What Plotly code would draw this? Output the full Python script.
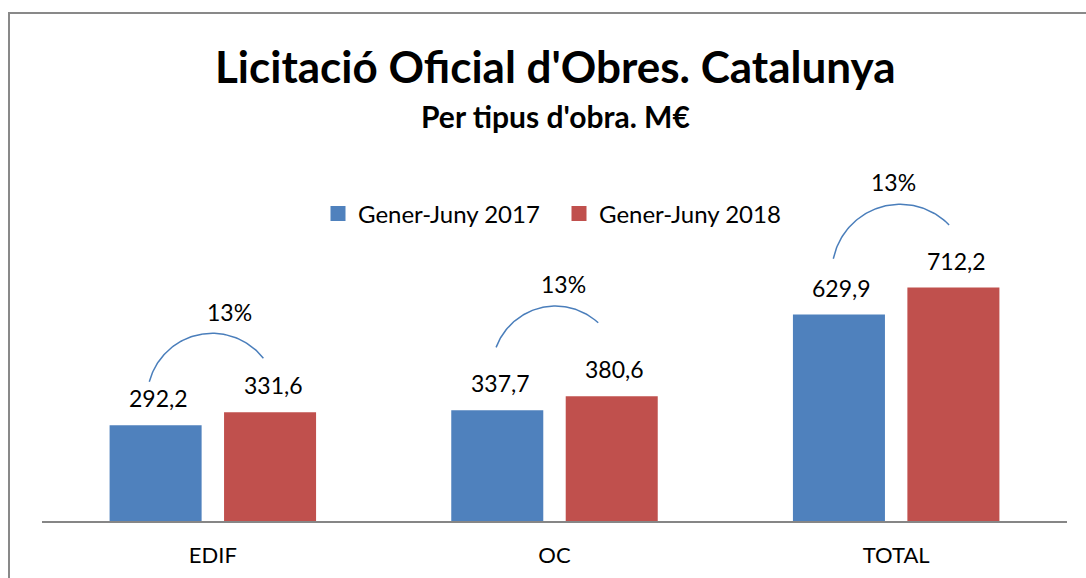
import numpy as np
import plotly.graph_objects as go

# ---- data ----
categories = ["EDIF", "OC", "TOTAL"]
series_names = ["Gener-Juny 2017", "Gener-Juny 2018"]
values_2017 = [292.2, 337.7, 629.9]
values_2018 = [331.6, 380.6, 712.2]

# ---- layout constants ----
W, H = 1086, 578
ML, MR, MT, MB = 42, 19, 160, 57
PLOT_W = W - ML - MR
PLOT_H = H - MT - MB
PX_PER_UNIT = 0.3278
Y_TOP = PLOT_H / PX_PER_UNIT
X_RANGE = [-0.5, len(categories) - 0.5]
BARGAP = 0.33
BARGROUPGAP = 0.196
BAR_OFF = (1 - BARGAP) / 4.0

BLUE = "#4F81BD"
RED = "#C0504D"
FONT = "Lato"

# decorative arc offsets (dx from group centre, dy above the 2018 value)
ARC_OFFSETS = [
    [(-0.186, 93), (-0.003, 241), (0.148, 165)],
    [(-0.171, 149), (0.006, 275), (0.128, 224)],
    [(-0.184, 88), (0.016, 254), (0.155, 191)],
]
PCT_OFFSETS = [(0.050, 307), (0.025, 342), (-0.009, 323)]


def d2p(x, y):
    px = ML + (x - X_RANGE[0]) / (X_RANGE[1] - X_RANGE[0]) * PLOT_W
    py = MT + PLOT_H - y / Y_TOP * PLOT_H
    return px, py


def p2d(px, py):
    x = X_RANGE[0] + (px - ML) / PLOT_W * (X_RANGE[1] - X_RANGE[0])
    y = (MT + PLOT_H - py) / PLOT_H * Y_TOP
    return x, y


def paper_x(px):
    return (px - ML) / PLOT_W


def paper_y(py):
    return (MT + PLOT_H - py) / PLOT_H


def arc_points(p1, p2, p3, n=80):
    (ax, ay), (bx, by), (cx, cy) = p1, p2, p3
    d = 2 * (ax * (by - cy) + bx * (cy - ay) + cx * (ay - by))
    ux = ((ax**2 + ay**2) * (by - cy) + (bx**2 + by**2) * (cy - ay) + (cx**2 + cy**2) * (ay - by)) / d
    uy = ((ax**2 + ay**2) * (cx - bx) + (bx**2 + by**2) * (ax - cx) + (cx**2 + cy**2) * (bx - ax)) / d
    r = np.hypot(ax - ux, ay - uy)
    ts = np.arctan2(ay - uy, ax - ux)
    tp = np.arctan2(by - uy, bx - ux)
    te = np.arctan2(cy - uy, cx - ux)
    two = 2 * np.pi
    sweep = (te - ts) % two
    if (tp - ts) % two < sweep:
        t = ts + np.linspace(0, sweep, n)
    else:
        t = ts - np.linspace(0, two - sweep, n)
    return ux + r * np.cos(t), uy + r * np.sin(t)


fig = go.Figure()
xs = list(range(len(categories)))
fig.add_trace(go.Bar(x=xs, y=values_2017, name=series_names[0], marker_color=BLUE,
                     marker_line_width=0, showlegend=False, legendgroup="a"))
fig.add_trace(go.Bar(x=xs, y=values_2018, name=series_names[1], marker_color=RED,
                     marker_line_width=0, showlegend=False, legendgroup="b"))
# legend entries with larger square swatches
for name, col, grp in ((series_names[0], BLUE, "a"), (series_names[1], RED, "b")):
    fig.add_trace(go.Scatter(x=[None], y=[None], mode="markers", name=name, legendgroup=grp,
                             marker=dict(symbol="square", size=15, color=col)))

annotations = []
# value labels
for i, (v1, v2) in enumerate(zip(values_2017, values_2018)):
    for xo, v in ((-BAR_OFF, v1), (BAR_OFF, v2)):
        annotations.append(dict(
            x=i + xo, y=v, xref="x", yref="y", text=f"{v:.1f}".replace(".", ","),
            showarrow=False, yanchor="middle", yshift=27, xshift=3,
            font=dict(family=FONT, size=23, color="black")))

# arcs and percentage labels
for i, (v1, v2) in enumerate(zip(values_2017, values_2018)):
    pts = [d2p(i + dx, v2 + dy) for dx, dy in ARC_OFFSETS[i]]
    apx, apy = arc_points(*pts)
    dx_, dy_ = p2d(apx, apy)
    fig.add_trace(go.Scatter(x=dx_, y=dy_, mode="lines", showlegend=False,
                             hoverinfo="skip", line=dict(color="#4A7EBB", width=1.5),
                             cliponaxis=False))
    pct = round((v2 / v1 - 1) * 100)
    ox, oy = PCT_OFFSETS[i]
    annotations.append(dict(
        x=i + ox, y=v2 + oy, xref="x", yref="y", text=f"{pct}%",
        showarrow=False, yanchor="middle",
        font=dict(family=FONT, size=23, color="black")))

# title & subtitle
annotations.append(dict(x=paper_x(555), y=paper_y(66), xref="paper", yref="paper",
                        text="<b>Licitació Oficial d'Obres. Catalunya</b>", showarrow=False,
                        xanchor="center", yanchor="middle",
                        font=dict(family=FONT, size=44, color="black")))
annotations.append(dict(x=paper_x(555), y=paper_y(116), xref="paper", yref="paper",
                        text="<b>Per tipus d'obra. M€</b>", showarrow=False,
                        xanchor="center", yanchor="middle",
                        font=dict(family=FONT, size=30, color="black")))

shapes = [dict(type="rect", xref="paper", yref="paper",
               x0=paper_x(9), x1=paper_x(W + 10), y0=paper_y(H + 10), y1=paper_y(13),
               line=dict(color="#898989", width=2), fillcolor="rgba(0,0,0,0)", layer="below")]

fig.update_layout(
    width=W, height=H,
    margin=dict(l=ML, r=MR, t=MT, b=MB, pad=0, autoexpand=False),
    paper_bgcolor="white", plot_bgcolor="white",
    barmode="group", bargap=BARGAP, bargroupgap=BARGROUPGAP,
    showlegend=True,
    legend=dict(orientation="h", x=paper_x(318), y=paper_y(214), xanchor="left",
                yanchor="middle", font=dict(family=FONT, size=24, color="black"),
                bgcolor="rgba(0,0,0,0)", itemsizing="trace", entrywidth=196),
    annotations=annotations,
    shapes=shapes,
    xaxis=dict(range=X_RANGE, tickvals=xs, ticktext=categories, showgrid=False,
               zeroline=False, showline=True, linecolor="#868686", linewidth=2,
               ticks="", tickfont=dict(family=FONT, size=22, color="black"),
               ticklabelstandoff=14, automargin=False, fixedrange=True),
    yaxis=dict(range=[0, Y_TOP], visible=False, automargin=False, fixedrange=True),
    font=dict(family=FONT),
)

fig.write_html("out.html", config={"displayModeBar": False},
               post_script="document.body.style.margin='0';")
